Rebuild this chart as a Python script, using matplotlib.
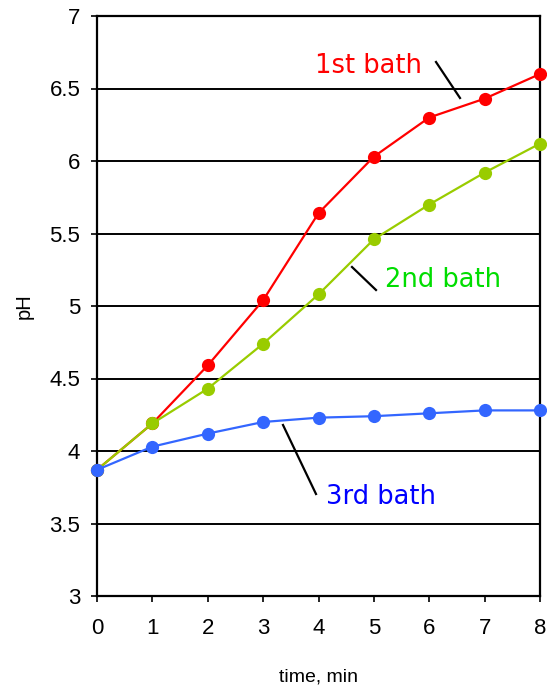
import matplotlib
matplotlib.use("Agg")
import matplotlib.pyplot as plt

time_min = [0, 1, 2, 3, 4, 5, 6, 7, 8]
ph_bath1 = [3.87, 4.19, 4.59, 5.04, 5.64, 6.03, 6.30, 6.43, 6.60]
ph_bath2 = [3.87, 4.19, 4.43, 4.74, 5.08, 5.46, 5.70, 5.92, 6.12]
ph_bath3 = [3.87, 4.03, 4.12, 4.20, 4.23, 4.24, 4.26, 4.28, 4.28]
series_names = ["1st bath", "2nd bath", "3rd bath"]
y_ticks = [3, 3.5, 4, 4.5, 5, 5.5, 6, 6.5, 7]
y_tick_labels = ["3", "3.5", "4", "4.5", "5", "5.5", "6", "6.5", "7"]

W, H = 547, 689
fig = plt.figure(figsize=(W / 100, H / 100), dpi=100)
ax = fig.add_axes([97 / W, (H - 596) / H, (540 - 97) / W, (596 - 16) / H])

line_colors = ["#FF0000", "#99CC00", "#3366FF"]
for ys, c in zip([ph_bath1, ph_bath2, ph_bath3], line_colors):
    ax.plot(time_min, ys, color=c, lw=1.6, marker="o", markersize=9.5,
            markeredgewidth=0, clip_on=False, zorder=3)

ax.set_xlim(0, 8)
ax.set_ylim(3, 7)
ax.set_xticks(time_min)
ax.set_yticks(y_ticks)
ax.set_yticklabels(y_tick_labels)
for y in y_ticks[1:-1]:
    ax.axhline(y, color="black", lw=1.4, zorder=1)

for s in ax.spines.values():
    s.set_linewidth(1.6)
    s.set_color("black")

tick_font = "Liberation Sans"
ax.tick_params(axis="both", direction="out", length=4, width=1.2,
               labelsize=16)
ax.tick_params(axis="y", pad=8)
ax.tick_params(axis="x", pad=12)
for lab in ax.get_xticklabels() + ax.get_yticklabels():
    lab.set_fontfamily(tick_font)

ax.set_xlabel("time, min", fontsize=14, fontfamily=tick_font, labelpad=21)
ax.set_ylabel("pH", fontsize=14.5, fontfamily=tick_font, labelpad=11)

# annotation leader lines and labels
def px2data(px, py):
    x = (px - 97) / (540 - 97) * 8
    y = 3 + (596 - py) / (596 - 16) * 4
    return x, y

ann = [
    (series_names[0], "#FF0000", (436, 62), (460, 98), (368, 66)),
    (series_names[1], "#00DD00", (352, 267), (376, 290), (443, 280)),
    (series_names[2], "#0000FF", (283, 425), (316, 494), (381, 497)),
]
for name, col, p1, p2, tp in ann:
    x1, y1 = px2data(*p1)
    x2, y2 = px2data(*p2)
    ax.plot([x1, x2], [y1, y2], color="black", lw=1.6, zorder=2)
    tx, ty = px2data(*tp)
    ax.text(tx, ty, name, color=col, fontsize=18.5, fontfamily="DejaVu Sans",
            ha="center", va="center")

fig.savefig("out.png", dpi=100)
